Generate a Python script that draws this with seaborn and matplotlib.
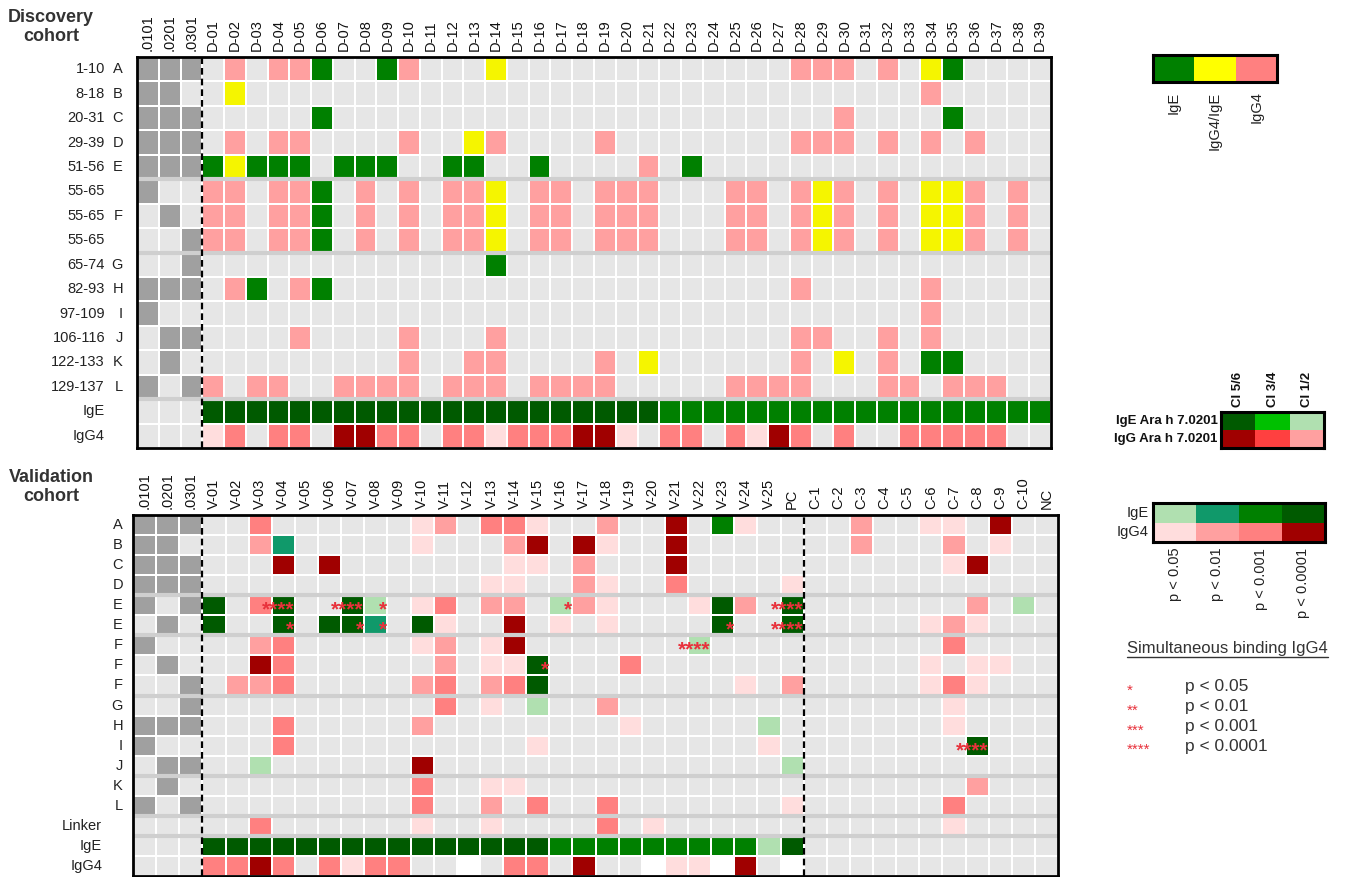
import numpy as np
import matplotlib
matplotlib.use("Agg")
import matplotlib.pyplot as plt
import seaborn as sns
from matplotlib.colors import ListedColormap
from matplotlib.lines import Line2D

# --- cell codes -> colours ---
CODE_COLORS = {
    ".": "#E6E6E6",  # no binding
    "#": "#A0A0A0",  # allele present
    "Y": "#F5F500",  # IgG4/IgE
    "1": "#B0E0B0",  # IgE p<0.05
    "2": "#10996A",  # IgE p<0.01
    "3": "#008000",  # IgE p<0.001 / IgE
    "4": "#005A00",  # IgE p<0.0001
    "a": "#FFDDDD",  # IgG4 p<0.05
    "b": "#FFA0A0",  # IgG4 p<0.01 / IgG4
    "c": "#FF8080",  # IgG4 p<0.001
    "d": "#A00000",  # IgG4 p<0.0001
    "w": "#FFFFFF",
    "g": "#00C000",
    "r": "#FF4040",
    "y": "#FFFF00",
}
CODES = list(CODE_COLORS)
CMAP = ListedColormap([CODE_COLORS[c] for c in CODES])

# --- Discovery cohort (3 alleles | D-01..D-39) ---
disc_cols = [".0101", ".0201", ".0301"] + [f"D-{i:02d}" for i in range(1, 40)]
disc_ranges = ["1-10", "8-18", "20-31", "29-39", "51-56", "55-65", "55-65", "55-65",
               "65-74", "82-93", "97-109", "106-116", "122-133", "129-137", "IgE", "IgG4"]
disc_letters = ["A", "B", "C", "D", "E", "", "F", "", "G", "H", "I", "J", "K", "L", "", ""]
disc_rows = [
    "### .b.bb3..3b ...Y...... .......bbb .b.Y3....",
    "##. .Y........ .......... .......... ...b.....",
    "### .....3.... .......... .........b ....3....",
    "### .b.bb....b ..Yb....b. .......bbb .b.b.b...",
    "### 3Y333.333. .33..3.... b.3....... .........",
    "#.. bb.bb3.b.b .bbY.bb.bb b...bb.bYb .b.YYb.b.",
    ".#. bb.bb3.b.b .bbY.bb.bb b...bb.bYb .b.YYb.b.",
    "..# bb.bb3.b.b .bbY.bb.bb b...bb.bYb .b.YYb.b.",
    "..# .......... ...3...... .......... .........",
    "### .b3.b3.... .......... .......b.. ...b.....",
    "#.. .......... .......... .......... ...b.....",
    ".## ....b....b ...b...... .......bb. .b.b.....",
    ".#. .........b ..bb....b. Y......b.Y .b.33....",
    "#.# b.bb..bbbb .bbb.bbbb. ....bbbb.. .bb.bbb..",
    "... 4444444444 4444444444 4333333333 333333333",
    "... ac.cc.ddcc .ccacccdda .cc.cadc.c ..ccccc..",
]
disc_seps = [5, 8, 14]

# --- Validation cohort (3 alleles | V-01..V-25 | PC | C-1..C-10 | NC) ---
val_cols = ([".0101", ".0201", ".0301"] + [f"V-{i:02d}" for i in range(1, 26)] + ["PC"]
            + [f"C-{i}" for i in range(1, 11)] + ["NC"])
val_letters = ["A", "B", "C", "D", "E", "E", "F", "F", "F", "G", "H", "I", "J", "K", "L"]
val_names = ["Linker", "IgE", "IgG4"]
val_rows = [
    "### ..c......a b.cca..b.. d.3a. . ..b..aa.d. .",
    "##. ..b2.....a ...bd.da.. d.... . ..b...b.a. .",
    "### ...d.d.... ...aa.b... d.... . ......ad.. .",
    "### .......... ..aa..ba.. c.... a .......... .",
    "#.# 4.c4..41.a c.bb.1ba.. .a4b. 4 .......b.1 .",
    ".#. 4..4.442.4 a..d.a.a.. ..4.. 4 .....aba.. .",
    "#.. ..bc.....a b.ad...... .1... . ......c... .",
    ".#. ..dc...... b.aa4...c. ..... . .....a.aa. .",
    "..# .bbc.....b c.bc4..... ...a. b .....aca.. .",
    "..# .......... c.a.1..b.. ..... . ......a... .",
    "### ...c.....b ........a. ....1 . ......a... .",
    "#.. ...c...... ....a..... ....a . .......4.. .",
    ".## ..1......d .......... ..... 1 .......... .",
    ".#. .........c ..aa...... ..... . .......b.. .",
    "#.# .........c ..b.c..c.. ..... a ......c... .",
    "... ..c......a ..a....c.a ..... . ......a... .",
    "... 4444444444 4444433333 33331 4 .......... .",
    "... ccdc.cacc. .w.cc.d..w aawd. w .......... .",
]
val_seps = [4, 6, 9, 13, 15, 16]
# simultaneous binding stars: (row, column label, stars)
val_stars = [(4, "V-04", "****"), (4, "V-07", "****"), (4, "V-08", "*"), (4, "V-16", "*"),
             (4, "PC", "****"), (5, "V-04", "*"), (5, "V-07", "*"), (5, "V-08", "*"),
             (5, "V-23", "*"), (5, "PC", "****"), (6, "V-22", "****"), (7, "V-15", "*"),
             (11, "C-8", "****")]

# --- legends ---
leg1_rows = ["3yc"]
leg1_labels = ["IgE", "IgG4/IgE", "IgG4"]
leg2_rows = ["4g1", "drb"]
leg2_cols = ["CI 5/6", "CI 3/4", "CI 1/2"]
leg2_names = ["IgE Ara h 7.0201", "IgG Ara h 7.0201"]
leg3_rows = ["1234", "abcd"]
leg3_cols = ["p < 0.05", "p < 0.01", "p < 0.001", "p < 0.0001"]
leg3_names = ["IgE", "IgG4"]
star_keys = ["*", "**", "***", "****"]
star_text = ["p < 0.05", "p < 0.01", "p < 0.001", "p < 0.0001"]

W, H = 1355, 877
STAR_RED = "#E8323C"

sns.set_theme(style="white")
plt.rcParams["font.family"] = ["Liberation Sans", "DejaVu Sans"]


def to_matrix(rows):
    return np.array([[CODES.index(ch) for ch in r.replace(" ", "")] for r in rows])


def px_axes(fig, left, top, right, bottom):
    return fig.add_axes([left / W, 1 - bottom / H, (right - left) / W, (bottom - top) / H])


def draw_panel(ax, rows, cols, seps, dashes, lw=1.3):
    sns.heatmap(to_matrix(rows), cmap=CMAP, vmin=-0.5, vmax=len(CODES) - 0.5, cbar=False,
                linewidths=lw, linecolor="white", xticklabels=cols, yticklabels=False, ax=ax)
    ax.xaxis.tick_top()
    ax.tick_params(axis="x", length=0, pad=4, labelsize=10.5, rotation=90, colors="#111111")
    ax.tick_params(axis="y", length=0)
    for y in seps:
        ax.axhline(y, color="#CFCFCF", lw=3)
    for x in dashes:
        ax.axvline(x, color="black", lw=1.6, ls=(0, (3, 1.8)))
    for s in ax.spines.values():
        s.set_visible(True)
        s.set_linewidth(2)
        s.set_color("black")


def row_label(ax, y, text, dx, **kw):
    ax.annotate(text, xy=(0, y + 0.5), xycoords=ax.get_yaxis_transform(), xytext=(-dx, 0),
                textcoords="offset pixels", ha="right", va="center", fontsize=10.5,
                color="#222222", **kw)


def legend_box(ax, rows):
    sns.heatmap(to_matrix(rows), cmap=CMAP, vmin=-0.5, vmax=len(CODES) - 0.5, cbar=False,
                xticklabels=False, yticklabels=False, ax=ax)
    for s in ax.spines.values():
        s.set_visible(True)
        s.set_linewidth(2.2)
        s.set_color("black")
    ax.tick_params(length=0)


fig = plt.figure(figsize=(W / 100, H / 100), dpi=100)

# discovery panel
ax1 = px_axes(fig, 137, 57, 1051, 448)
draw_panel(ax1, disc_rows, disc_cols, disc_seps, [3])
for i, (rng, let) in enumerate(zip(disc_ranges, disc_letters)):
    row_label(ax1, i, rng, 32)
    if let:
        row_label(ax1, i, let, 14)

# validation panel
ax2 = px_axes(fig, 133, 515, 1058, 876)
draw_panel(ax2, val_rows, val_cols, val_seps, [3, 29])
for i, let in enumerate(val_letters):
    row_label(ax2, i, let, 10)
for j, name in enumerate(val_names):
    row_label(ax2, len(val_letters) + j, name, 31)
for r, col, stars in val_stars:
    c = val_cols.index(col)
    ax2.text(c + 0.98, r + 0.74, stars, ha="right", va="center", color=STAR_RED,
             fontsize=15, fontweight="bold")

fig.text(51 / W, 1 - 27 / H, "Discovery\ncohort", ha="center", va="center", fontsize=13,
         fontweight="bold", color="#333333", linespacing=1.15)
fig.text(51 / W, 1 - 487 / H, "Validation\ncohort", ha="center", va="center", fontsize=13,
         fontweight="bold", color="#333333", linespacing=1.15)

# legend 1: binding type
lg1 = px_axes(fig, 1153, 55, 1277, 82)
legend_box(lg1, leg1_rows)
for j, lab in enumerate(leg1_labels):
    lg1.text(j + 0.5, 1.35, lab, rotation=90, ha="center", va="top", fontsize=10.5,
             color="#222222")

# legend 2: CI
lg2 = px_axes(fig, 1221, 412, 1324, 448)
legend_box(lg2, leg2_rows)
for j, lab in enumerate(leg2_cols):
    lg2.text(j + 0.5, -0.3, lab, rotation=90, ha="center", va="bottom", fontsize=9.5,
             fontweight="bold", color="#111111")
for i, lab in enumerate(leg2_names):
    lg2.text(-0.1, i + 0.5, lab, ha="right", va="center", fontsize=9.5, fontweight="bold",
             color="#111111")

# legend 3: p values
lg3 = px_axes(fig, 1153, 503, 1325, 542)
legend_box(lg3, leg3_rows)
for j, lab in enumerate(leg3_cols):
    lg3.text(j + 0.5, 2.3, lab, rotation=90, ha="center", va="top", fontsize=10.5,
             color="#222222")
for i, lab in enumerate(leg3_names):
    lg3.text(-0.1, i + 0.5, lab, ha="right", va="center", fontsize=10.5, color="#222222")

# simultaneous binding key
t = fig.text(1127 / W, 1 - 648 / H, "Simultaneous binding IgG4", ha="left", va="center",
             fontsize=12, color="#333333")
fig.canvas.draw()
bb = t.get_window_extent()
fig.add_artist(Line2D([bb.x0 / W, bb.x1 / W], [(bb.y0 - 1) / H, (bb.y0 - 1) / H],
                      transform=fig.transFigure, color="#333333", lw=1))
for k, (st, txt) in enumerate(zip(star_keys, star_text)):
    y = 1 - (687 + k * 19.7) / H
    fig.text(1127 / W, y - 4 / H, st, ha="left", va="center", fontsize=11, color=STAR_RED)
    fig.text(1185 / W, y, txt, ha="left", va="center", fontsize=12.5, color="#333333")

fig.savefig("out.png", dpi=100)
